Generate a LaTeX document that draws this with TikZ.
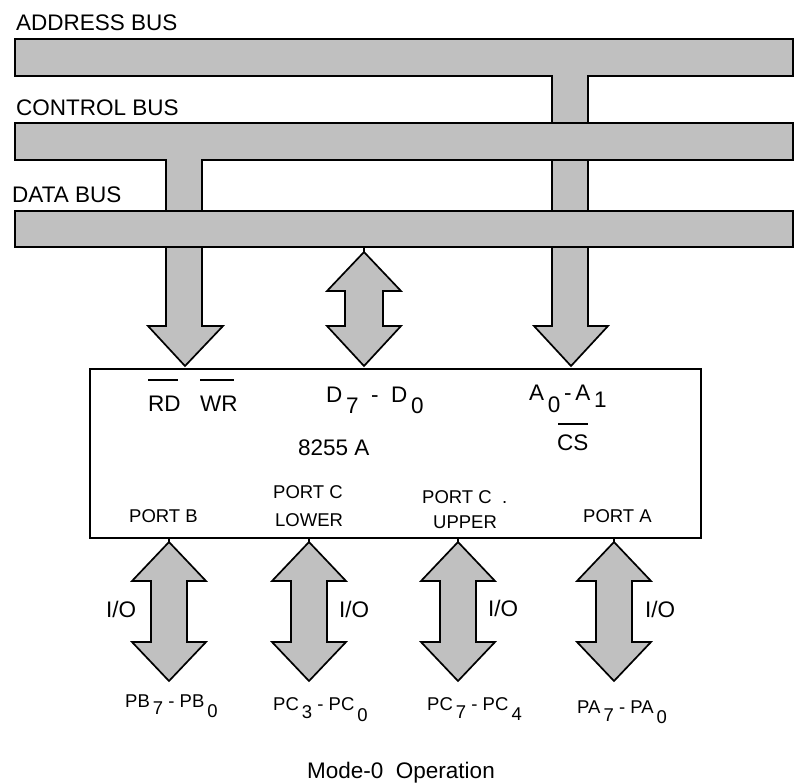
\documentclass[tikz,border=0pt]{standalone}
\usepackage{fontspec}
\setmainfont{Liberation Sans}
\definecolor{busgray}{RGB}{192,192,192}
\begin{document}
\begin{tikzpicture}[x=1pt,y=-1pt,
  bus/.style={fill=busgray,draw=black,line width=1.7pt,line join=miter},
  tick/.style={draw=black,line width=1.1pt},
  bar/.style={draw=black,line width=1.3pt},
  txt/.style={inner sep=0pt,anchor=base west,font=\fontsize{22.5}{27}\selectfont},
  sml/.style={inner sep=0pt,anchor=base west,font=\fontsize{18.5}{22}\selectfont}]
\useasboundingbox (0,0) rectangle (797,782);

% address bus with its stem and arrow to the chip
\draw[bus] (15,39) -- (793,39) -- (793,76) -- (588,76) -- (588,326) -- (608,326)
  -- (571,366) -- (534,326) -- (552,326) -- (552,76) -- (15,76) -- cycle;
% control bus with its stem and arrow
\draw[bus] (15,123) -- (793,123) -- (793,160) -- (202,160) -- (202,326) -- (223,326)
  -- (185,366) -- (148,326) -- (166,326) -- (166,160) -- (15,160) -- cycle;
% data bus
\draw[bus] (15,211) rectangle (793,247);

% data double arrow
\draw[bus] (364,252) -- (401,291) -- (383,291) -- (383,326) -- (401,326) -- (364,366)
  -- (327,326) -- (345,326) -- (345,291) -- (327,291) -- cycle;
\draw[tick] (364,247) -- (364,252);

% chip
\node[draw=black,line width=1.6pt,minimum width=611pt,minimum height=169pt,
  inner sep=0pt,anchor=north west] (chip) at (89,368) {};

% port double arrows
\foreach \cx in {169,309,458,614}{
  \draw[bus] (\cx,542) -- ({\cx+37},581) -- ({\cx+18},581) -- ({\cx+18},642)
    -- ({\cx+37},642) -- (\cx,681) -- ({\cx-37},642) -- ({\cx-18},642)
    -- ({\cx-18},581) -- ({\cx-37},581) -- cycle;
  \draw[tick] (\cx,537) -- (\cx,542);
}

% bus labels
\node[txt] (ab) at (16,30) {ADDRESS BUS};
\node[txt] (cb) at (16,115) {CONTROL BUS};
\node[txt] (db) at (12,202) {DATA BUS};

% chip labels
\node[txt] (rd) at (148,411) {RD};
\draw[bar] (148,380) -- (178,380);
\node[txt] (wr) at (200,411) {WR};
\draw[bar] (200,380) -- (234,380);
\node[txt] (dd) at (326,402) {D\,\raisebox{-11pt}{7}\; - \;D\,\raisebox{-11pt}{0}};
\node[txt] (aa) at (529,400) {A\,\raisebox{-12pt}{0}\,-\,A\,\raisebox{-7pt}{1}};
\node[txt] (nm) at (298,455) {8255 A};
\node[txt] (cs) at (557,450) {CS};
\draw[bar] (558,424) -- (588,424);

\node[sml] (pb) at (129,522) {PORT B};
\node[sml] (pc1) at (273,498) {PORT C};
\node[sml] (pc2) at (275,526) {LOWER};
\node[sml] (pu1) at (422,503) {PORT C \ .};
\node[sml] (pu2) at (433,528) {UPPER};
\node[sml] (pa) at (583,522) {PORT A};

% I/O labels
\node[txt] (io1) at (106,617) {I/O};
\node[txt] (io2) at (339,617) {I/O};
\node[txt] (io3) at (488,616) {I/O};
\node[txt] (io4) at (645,617) {I/O};

% pin labels
\node[sml] (l1) at (125,707) {PB\,\raisebox{-7pt}{7} - PB\,\raisebox{-10pt}{0}};
\node[sml] (l2) at (273,710) {PC\,\raisebox{-8pt}{3} - PC\,\raisebox{-11pt}{0}};
\node[sml] (l3) at (427,710) {PC\,\raisebox{-8pt}{7} - PC\,\raisebox{-10pt}{4}};
\node[sml] (l4) at (577,713) {PA\,\raisebox{-8pt}{7} - PA\,\raisebox{-10pt}{0}};

\node[txt] (cap) at (307,778) {Mode-0\ \ Operation};
\end{tikzpicture}
\end{document}
